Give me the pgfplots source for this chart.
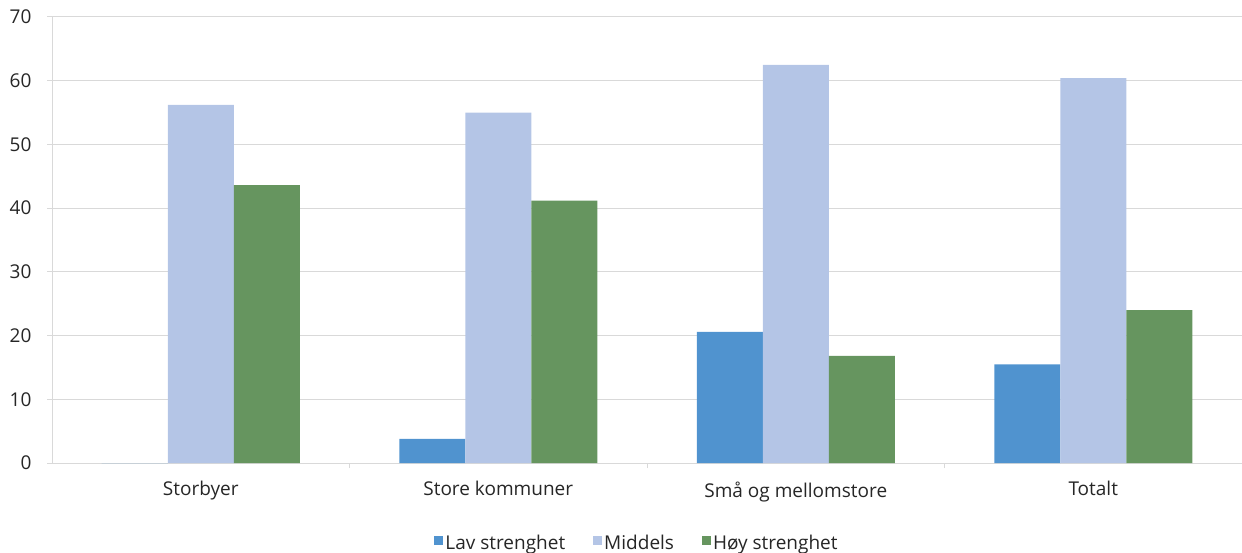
\documentclass[border=0pt]{standalone}
\usepackage{fontspec}
\setmainfont{Open Sans}
\usepackage{pgfplots}
\pgfplotsset{compat=1.18}
\definecolor{lav}{RGB}{80,147,207}
\definecolor{mid}{RGB}{180,197,230}
\definecolor{hoy}{RGB}{102,149,95}
\definecolor{gridc}{RGB}{217,217,217}
\definecolor{txt}{RGB}{38,38,38}
\begin{document}
\fontsize{19}{22}\selectfont
\begin{tikzpicture}
\begin{axis}[
  scale only axis,
  width=1190pt, height=446pt,
  ybar=0pt, bar width=66pt,
  xmin=-0.5, xmax=3.5,
  ymin=0, ymax=70,
  ytick={0,10,...,70},
  xtick={0.5,1.5,2.5},
  xticklabels={},
  extra x ticks={0,1,2,3},
  extra x tick labels={Storbyer,Store kommuner,Små og mellomstore,Totalt},
  extra x tick style={major tick length=0pt, grid=none},
  ymajorgrids, grid style={gridc, line width=1pt},
  axis line style={gridc, line width=1pt},
  axis x line*=bottom, axis y line*=left,
  tick style={gridc, line width=1pt},
  major tick length=5pt,
  tick align=outside,
  /pgf/number format/assume math mode=true,
  ticklabel style={font=\fontsize{19}{22}\selectfont, text=txt},
  xticklabel style={yshift=-12pt},
  yticklabel style={xshift=-9pt},
  legend style={at={(axis description cs:0.4916,-0.157)}, anchor=north, draw=none, legend columns=-1, font=\fontsize{19}{22}\selectfont, text=txt, /tikz/every even column/.append style={column sep=26pt}, inner sep=0pt},
  legend image code/.code={\fill[#1] (0pt,-1pt) rectangle (9pt,8pt);},
  legend cell align=left,
]
\addplot[fill=lav, draw=none] coordinates {(0,0) (1,3.8) (2,20.6) (3,15.5)};
\addplot[fill=mid, draw=none] coordinates {(0,56.2) (1,55.0) (2,62.5) (3,60.4)};
\addplot[fill=hoy, draw=none] coordinates {(0,43.6) (1,41.2) (2,16.8) (3,24.0)};
\legend{Lav strenghet,Middels,Høy strenghet}
\end{axis}
\pgfresetboundingbox
\path ([shift={(-52pt,-89pt)}]current axis.south west) rectangle ([shift={(0pt,17pt)}]current axis.north east);
\end{tikzpicture}
\end{document}
